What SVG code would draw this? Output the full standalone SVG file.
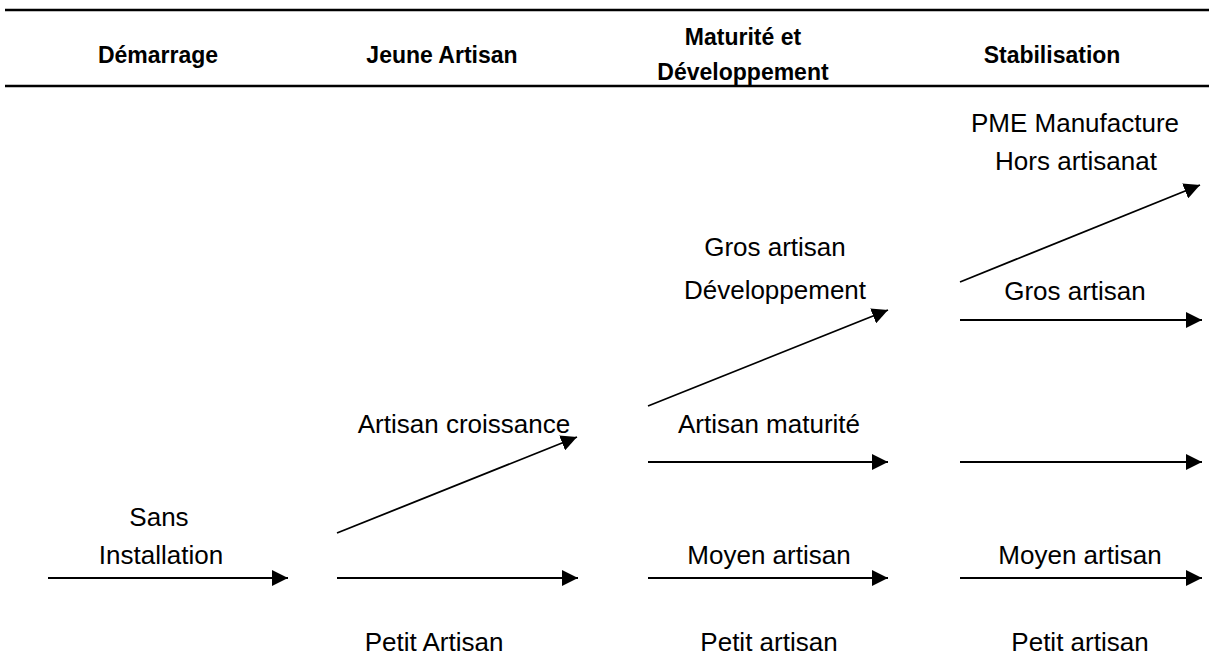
<svg xmlns="http://www.w3.org/2000/svg" width="1209" height="657" viewBox="0 0 1209 657">
<style>
.h{font-family:"Liberation Sans",Arial,sans-serif;font-weight:bold;font-size:23px;fill:#000;text-anchor:middle}
.t{font-family:"Liberation Sans",Arial,sans-serif;font-size:26px;fill:#000;text-anchor:middle}
.rule{stroke:#000;stroke-width:2.5}
.c{stroke:#000;stroke-width:1.8;fill:none;marker-end:url(#ah)}
</style>
<defs>
<marker id="ah" markerUnits="userSpaceOnUse" markerWidth="16" markerHeight="16" refX="16" refY="8" orient="auto" viewBox="0 0 16 16">
<path d="M0,0 L16,8 L0,16 z" fill="#000"/>
</marker>
</defs>
<rect width="1209" height="657" fill="#fff"/>
<g id="header">
<line class="rule" x1="5" y1="10" x2="1209" y2="10"/>
<line class="rule" x1="5" y1="86" x2="1209" y2="86"/>
<text class="h" x="158" y="63">Démarrage</text>
<text class="h" x="442" y="63">Jeune Artisan</text>
<text class="h" x="743" y="45">Maturité et</text>
<text class="h" x="743" y="80">Développement</text>
<text class="h" x="1052" y="63">Stabilisation</text>
</g>
<g id="n-sans"><text class="t" x="159" y="526">Sans</text><text class="t" x="161" y="564">Installation</text></g>
<g id="n-croissance"><text class="t" x="464" y="433">Artisan croissance</text></g>
<g id="n-petit1"><text class="t" x="434" y="651">Petit Artisan</text></g>
<g id="n-gros1"><text class="t" x="775" y="256">Gros artisan</text><text class="t" x="775" y="299">Développement</text></g>
<g id="n-maturite"><text class="t" x="769" y="433">Artisan maturité</text></g>
<g id="n-moyen1"><text class="t" x="769" y="564">Moyen artisan</text></g>
<g id="n-petit2"><text class="t" x="769" y="651">Petit artisan</text></g>
<g id="n-pme"><text class="t" x="1075" y="132">PME Manufacture</text><text class="t" x="1076" y="170">Hors artisanat</text></g>
<g id="n-gros2"><text class="t" x="1075" y="300">Gros artisan</text></g>
<g id="n-moyen2"><text class="t" x="1080" y="564">Moyen artisan</text></g>
<g id="n-petit3"><text class="t" x="1080" y="651">Petit artisan</text></g>
<g id="connectors">
<line class="c" x1="48" y1="578" x2="288" y2="578"/>
<line class="c" x1="337" y1="578" x2="578" y2="578"/>
<line class="c" x1="337" y1="533" x2="577" y2="437"/>
<line class="c" x1="648" y1="578" x2="888" y2="578"/>
<line class="c" x1="648" y1="462" x2="888" y2="462"/>
<line class="c" x1="648" y1="406" x2="888" y2="310"/>
<line class="c" x1="960" y1="578" x2="1202" y2="578"/>
<line class="c" x1="960" y1="462" x2="1202" y2="462"/>
<line class="c" x1="960" y1="320" x2="1202" y2="320"/>
<line class="c" x1="960" y1="282" x2="1200" y2="185"/>
</g>
</svg>
